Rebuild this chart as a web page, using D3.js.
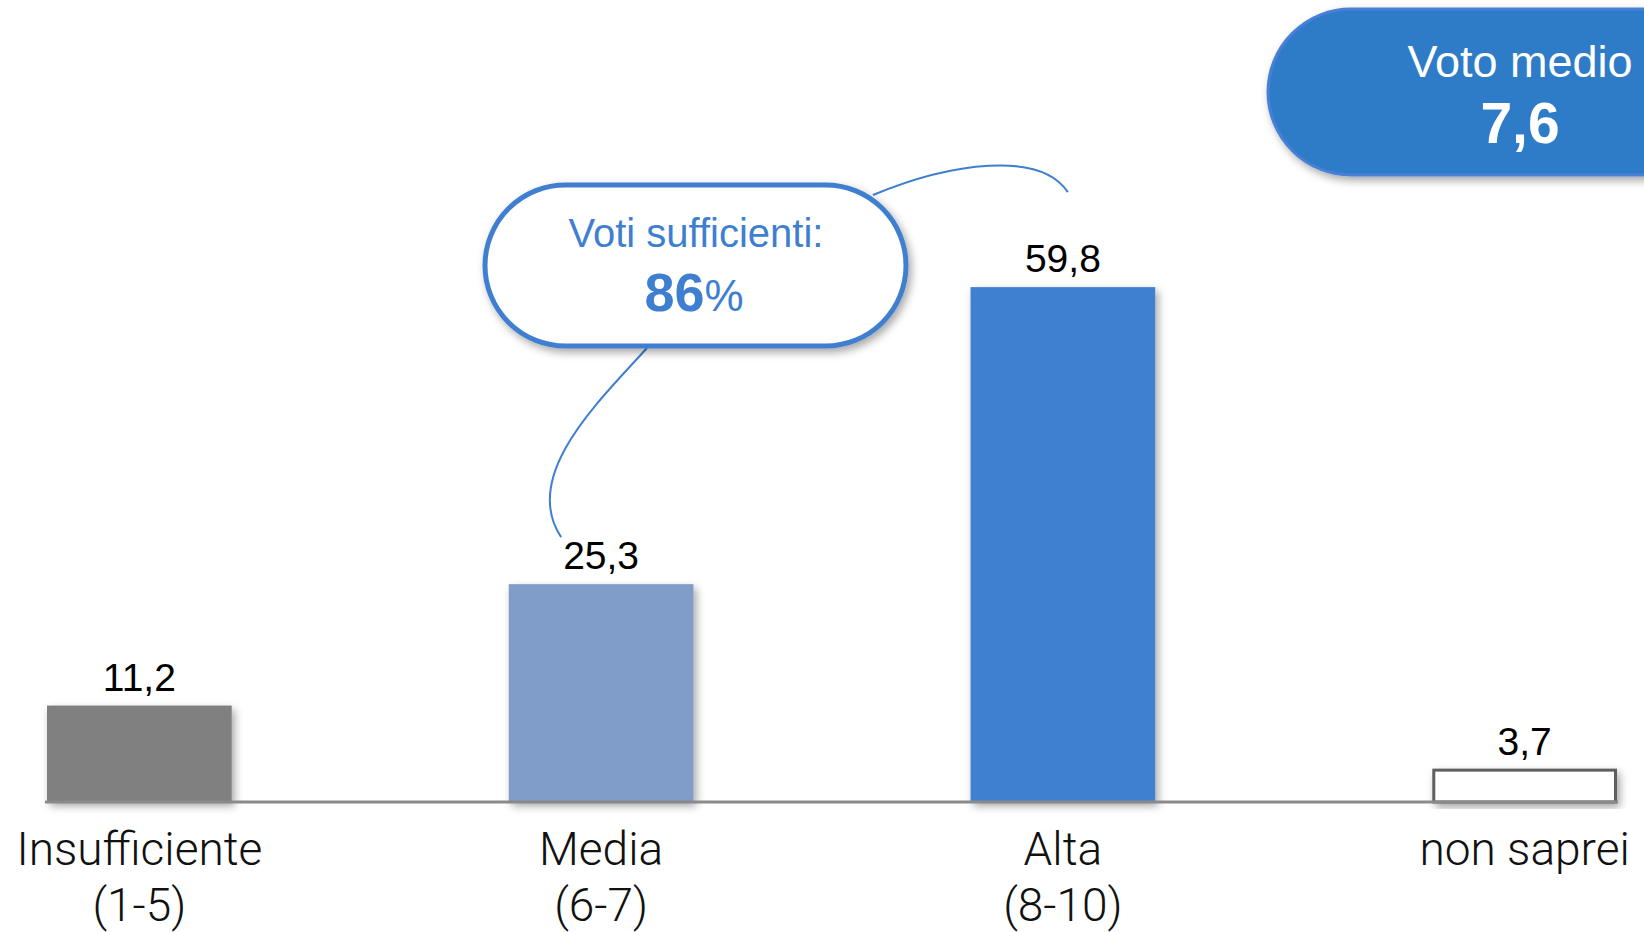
<!DOCTYPE html>
<html>
<head>
<meta charset="utf-8">
<script src="https://cdn.jsdelivr.net/npm/d3@7"></script>
<style>
  body { margin: 0; background: #fff; }
  svg { display: block; }
</style>
</head>
<body>
<svg id="chart"></svg>
<script>
// data
let categories = ["Insufficiente", "Media", "Alta", "non saprei"];
let ranges = ["(1-5)", "(6-7)", "(8-10)", ""];
let values = [11.2, 25.3, 59.8, 3.7];
let barColors = ["#808080", "#809cc8", "#4180d1", "#ffffff"];

let sufficientTitle = "Voti sufficienti:";
let sufficientValue = "86";
let averageTitle = "Voto medio";
let averageValue = "7,6";

let width = 1644;
let height = 932;
let baseY = 802;

let blue = "#3f7fd0";
let font = "'Liberation Sans', Arial, sans-serif";

let it = d3.formatLocale({ decimal: ",", thousands: ".", grouping: [3], currency: ["", "€"] });
let fmt = it.format(".1f");

let svg = d3.select("#chart")
    .attr("width", width)
    .attr("height", height);

let defs = svg.append("defs");
let shadow = defs.append("filter")
    .attr("id", "shadow")
    .attr("x", "-20%").attr("y", "-20%")
    .attr("width", "140%").attr("height", "140%");
shadow.append("feDropShadow")
    .attr("dx", 3).attr("dy", 4)
    .attr("stdDeviation", 4)
    .attr("flood-color", "#000")
    .attr("flood-opacity", 0.35);

let xScale = d3.scaleBand()
    .domain(categories)
    .range([47, 1617])
    .paddingInner(0.6)
    .paddingOuter(0);

let yScale = d3.scaleLinear()
    .domain([0, 70])
    .range([baseY, baseY - 70 * 8.61]);

// bars
svg.append("g")
    .selectAll("rect")
    .data(values)
    .enter()
    .append("rect")
    .attr("x", (d, i) => xScale(categories[i]) + (i == 3 ? 1.5 : 0))
    .attr("y", d => yScale(d))
    .attr("width", (d, i) => xScale.bandwidth() - (i == 3 ? 3 : 0))
    .attr("height", d => baseY - yScale(d))
    .attr("fill", (d, i) => barColors[i])
    .attr("stroke", (d, i) => i == 3 ? "#5f5f5f" : "none")
    .attr("stroke-width", 3)
    .attr("filter", "url(#shadow)");

// axis line
let xAxis = d3.axisBottom(xScale).tickSize(0).tickFormat("");
svg.append("g")
    .attr("transform", "translate(0," + baseY + ")")
    .call(xAxis)
    .call(g => g.select(".domain")
        .attr("d", "M45,0H1618")
        .attr("stroke", "#8a8a8a")
        .attr("stroke-width", 3));

// value labels
svg.append("g")
    .selectAll("text")
    .data(values)
    .enter()
    .append("text")
    .attr("x", (d, i) => xScale(categories[i]) + xScale.bandwidth() / 2)
    .attr("y", d => yScale(d) - 15)
    .attr("text-anchor", "middle")
    .attr("font-family", font)
    .attr("font-size", 39)
    .attr("fill", "#000")
    .text(d => fmt(d));

// category labels
let cat = svg.append("g")
    .selectAll("text")
    .data(categories)
    .enter()
    .append("text")
    .attr("x", d => xScale(d) + xScale.bandwidth() / 2)
    .attr("y", 865)
    .attr("text-anchor", "middle")
    .attr("font-family", "Roboto, " + font)
    .attr("font-weight", 300)
    .attr("font-size", 46)
    .attr("fill", "#111");
cat.append("tspan").text(d => d);
cat.append("tspan")
    .attr("x", d => xScale(d) + xScale.bandwidth() / 2)
    .attr("dy", 56)
    .text((d, i) => ranges[i]);

// connector curves for the callout
let midX = xScale(categories[1]) + xScale.bandwidth() / 2;
let highX = xScale(categories[2]) + xScale.bandwidth() / 2;
let lowEnd = [midX - 40, yScale(values[1]) - 47];
let highEnd = [highX + 5, yScale(values[2]) - 95];

svg.append("path")
    .attr("d", "M647,348 C600,400 520,475 " + lowEnd[0] + "," + lowEnd[1])
    .attr("fill", "none")
    .attr("stroke", blue)
    .attr("stroke-width", 2);

svg.append("path")
    .attr("d", "M873,195 C950,163 1040,150 " + highEnd[0] + "," + highEnd[1])
    .attr("fill", "none")
    .attr("stroke", blue)
    .attr("stroke-width", 2);

// callout pill
svg.append("rect")
    .attr("x", 485)
    .attr("y", 185)
    .attr("width", 421)
    .attr("height", 161)
    .attr("rx", 80.5)
    .attr("fill", "#fff")
    .attr("stroke", blue)
    .attr("stroke-width", 5)
    .attr("filter", "url(#shadow)");

svg.append("text")
    .attr("x", 696)
    .attr("y", 247)
    .attr("text-anchor", "middle")
    .attr("font-family", font)
    .attr("font-size", 40)
    .attr("fill", blue)
    .text(sufficientTitle);

let pct = svg.append("text")
    .attr("x", 694)
    .attr("y", 311)
    .attr("text-anchor", "middle")
    .attr("font-family", font)
    .attr("fill", blue);
pct.append("tspan")
    .attr("font-size", 54)
    .attr("font-weight", "bold")
    .text(sufficientValue);
pct.append("tspan")
    .attr("font-size", 44)
    .text("%");

// average box, runs off the right edge
svg.append("rect")
    .attr("x", 1268)
    .attr("y", 9)
    .attr("width", 460)
    .attr("height", 166)
    .attr("rx", 83)
    .attr("fill", "#2f7cc7")
    .attr("stroke", "#4a80d6")
    .attr("stroke-width", 3)
    .attr("filter", "url(#shadow)");

svg.append("text")
    .attr("x", 1520)
    .attr("y", 77)
    .attr("text-anchor", "middle")
    .attr("font-family", font)
    .attr("font-size", 45)
    .attr("fill", "#fff")
    .text(averageTitle);

svg.append("text")
    .attr("x", 1520)
    .attr("y", 143)
    .attr("text-anchor", "middle")
    .attr("font-family", font)
    .attr("font-weight", "bold")
    .attr("font-size", 57)
    .attr("fill", "#fff")
    .text(averageValue);
</script>
</body>
</html>
